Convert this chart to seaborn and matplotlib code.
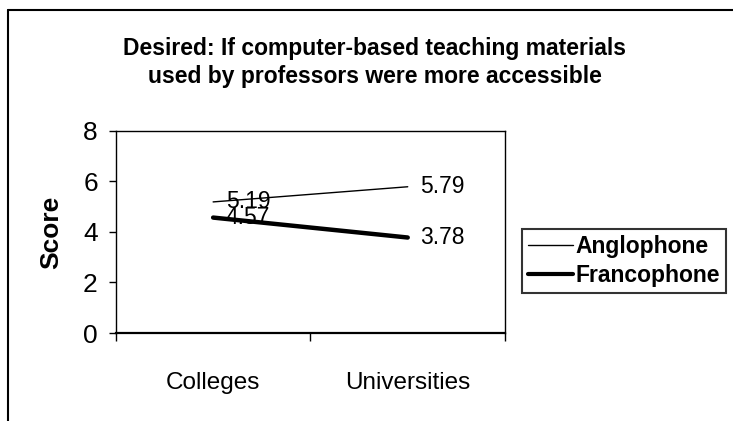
import pandas as pd
import seaborn as sns
import matplotlib.pyplot as plt
from matplotlib.lines import Line2D

# chart values
categories = ['Colleges', 'Universities']
anglophone = [5.19, 5.79]
francophone = [4.57, 3.78]
series_names = ['Anglophone', 'Francophone']
y_ticks = [0, 2, 4, 6, 8]

df = pd.DataFrame({
    'Sector': categories * 2,
    'Score': anglophone + francophone,
    'Group': [series_names[0]] * 2 + [series_names[1]] * 2,
})

sns.set_style('white')
plt.rcParams['font.family'] = ['Liberation Sans', 'DejaVu Sans']
plt.rcParams['text.color'] = 'black'
plt.rcParams['axes.labelcolor'] = 'black'
plt.rcParams['xtick.color'] = 'black'
plt.rcParams['ytick.color'] = 'black'

fig = plt.figure(figsize=(7.33, 4.21), dpi=100)
ax = fig.add_axes([0.158, 0.209, 0.531, 0.480])

sns.lineplot(data=df, x='Sector', y='Score', hue='Group', size='Group',
             sizes={'Anglophone': 1.0, 'Francophone': 3.2},
             palette={'Anglophone': 'black', 'Francophone': 'black'},
             legend=False, ax=ax)

# data labels
for vals in (anglophone, francophone):
    for i, v in enumerate(vals):
        ax.text(i + 0.065, v, f'{v:.2f}', fontsize=16.5, va='center', ha='left')

ax.set_xlim(-0.5, 1.5)
ax.set_ylim(0, 8)
ax.set_yticks(y_ticks)
ax.set_yticklabels([str(t) for t in y_ticks], fontsize=19)
ax.set_xticks([0, 1])
ax.set_xticklabels(categories, fontsize=17.5)
ax.tick_params(axis='x', length=0, pad=28)
ax.set_xticks([-0.5, 0.5, 1.5], minor=True)
ax.tick_params(axis='x', which='minor', direction='out', length=6, width=1, bottom=True)
ax.tick_params(axis='y', direction='out', length=5, width=1, left=True, pad=8)
ax.set_xlabel('')
ax.set_ylabel('Score', fontsize=19, fontweight='bold', labelpad=14)

for side in ('left', 'bottom', 'right', 'top'):
    ax.spines[side].set_visible(True)
    ax.spines[side].set_color('black')
    ax.spines[side].set_linewidth(1.0)
ax.spines['bottom'].set_linewidth(1.6)

fig.text(0.511, 0.851, 'Desired: If computer-based teaching materials\n'
         'used by professors were more accessible',
         ha='center', va='center', fontsize=16.5, fontweight='bold', linespacing=1.25)

handles = [Line2D([], [], color='black', lw=1.0),
           Line2D([], [], color='black', lw=3.0)]
leg = fig.legend(handles, series_names, loc='center left',
                 bbox_to_anchor=(0.712, 0.38), frameon=True, fancybox=False,
                 prop={'weight': 'bold', 'size': 16.5}, handlelength=2.0,
                 handletextpad=0.1, borderpad=0.25, labelspacing=0.25,
                 borderaxespad=0)
leg.get_frame().set_edgecolor('black')
leg.get_frame().set_linewidth(1.5)

# outer chart frame
fig.add_artist(Line2D([0.011, 0.011], [0.0, 0.977], color='black', lw=1.5,
                      transform=fig.transFigure))
fig.add_artist(Line2D([0.011, 1.0], [0.977, 0.977], color='black', lw=1.5,
                      transform=fig.transFigure))

fig.savefig('out.png', dpi=100)
